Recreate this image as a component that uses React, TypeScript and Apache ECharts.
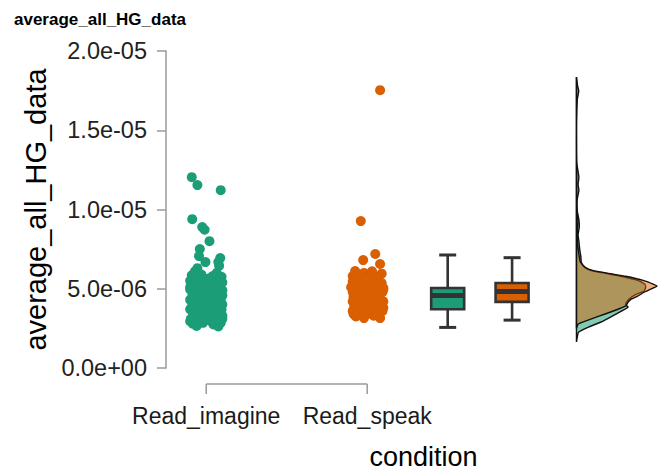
import React, { useEffect, useRef } from 'react';
import * as echarts from 'echarts';

// ---------- data ----------
const categories = ['Read_imagine', 'Read_speak'];
const categoryPositions = [1, 2];
const groupColors = ['#1b9e77', '#d95f02'];
const densityFills = ['rgba(27,158,119,0.55)', 'rgba(217,95,2,0.5)'];
const yTickLabels = ['0.0e+00', '5.0e-06', '1.0e-05', '1.5e-05', '2.0e-05'];

// jittered points: [jitter offset (category units), value (x1e-6)]
const imaginePoints: number[][] = [
  [-0.09, 12.04], [-0.055, 11.54], [0.09, 11.22], [-0.087, 9.39], [-0.025, 8.89], [-0.01, 8.72],
  [0.02, 8.0], [-0.04, 7.5], [-0.045, 7.06], [0.087, 6.94], [0.075, 6.68], [-0.005, 6.68],
  [-0.055, 6.3], [0.08, 6.45], [-0.07, 6.1],
  [-0.09, 5.85], [-0.03, 5.9], [0.04, 5.8], [0.095, 5.75],
  [-0.1, 5.5], [-0.05, 5.6], [0.0, 5.45], [0.06, 5.55], [0.1, 5.4],
  [-0.08, 5.2], [-0.02, 5.15], [0.03, 5.25], [0.08, 5.1],
  [-0.1, 4.95], [-0.06, 4.85], [0.0, 4.9], [0.05, 4.8], [0.1, 4.9],
  [-0.085, 4.6], [-0.03, 4.55], [0.02, 4.62], [0.07, 4.5], [0.1, 4.58],
  [-0.1, 4.3], [-0.05, 4.25], [0.0, 4.35], [0.045, 4.2], [0.09, 4.3],
  [-0.08, 4.0], [-0.02, 3.95], [0.03, 4.05], [0.075, 3.9], [0.1, 4.0],
  [-0.1, 3.7], [-0.055, 3.65], [0.005, 3.75], [0.05, 3.6], [0.095, 3.7],
  [-0.08, 3.4], [-0.025, 3.35], [0.03, 3.45], [0.08, 3.3],
  [-0.095, 3.1], [-0.045, 3.05], [0.01, 3.15], [0.06, 3.0], [0.1, 3.1],
  [-0.085, 2.8], [-0.06, 2.65], [-0.02, 2.85], [0.045, 2.75], [0.075, 2.62], [0.09, 2.85],
  [-0.075, 5.7], [0.015, 5.65], [0.075, 5.65], [-0.045, 5.35], [0.055, 5.35], [-0.1, 5.1],
  [0.01, 5.0], [-0.035, 4.72], [0.08, 4.72], [-0.065, 4.45], [0.025, 4.4], [0.07, 4.1],
  [-0.04, 4.12], [-0.09, 3.85], [0.05, 3.85], [-0.01, 3.55], [0.085, 3.5], [-0.06, 3.25],
  [0.04, 3.25], [0.1, 3.3], [-0.1, 2.95], [0.03, 2.95], [0.0, 3.6], [-0.07, 3.55],
  [0.06, 4.95], [0.03, 5.45], [-0.065, 5.95], [0.065, 6.0],
];
const speakPoints: number[][] = [
  [0.08, 17.53], [-0.04, 9.27], [0.05, 7.19], [-0.025, 6.81], [0.08, 6.56], [-0.075, 6.12],
  [-0.02, 6.0], [0.03, 6.1], [0.09, 5.95],
  [-0.09, 5.8], [-0.04, 5.7], [0.02, 5.75], [0.07, 5.65],
  [-0.09, 5.45], [-0.03, 5.4], [0.03, 5.5], [0.09, 5.35],
  [-0.085, 5.1], [-0.04, 5.15], [0.01, 5.05], [0.06, 5.2], [0.1, 5.05],
  [-0.09, 4.8], [-0.045, 4.85], [0.0, 4.75], [0.05, 4.9], [0.095, 4.8],
  [-0.085, 4.5], [-0.03, 4.55], [0.02, 4.45], [0.07, 4.6],
  [-0.09, 4.2], [-0.05, 4.25], [0.0, 4.15], [0.05, 4.3], [0.1, 4.2],
  [-0.08, 3.9], [-0.025, 3.95], [0.03, 3.85], [0.08, 3.95],
  [-0.09, 3.6], [-0.04, 3.55], [0.015, 3.65], [0.06, 3.5], [0.095, 3.6],
  [-0.07, 3.25], [-0.02, 3.15], [0.04, 3.3], [0.08, 3.15],
  [-0.065, 5.6], [0.05, 5.8], [0.0, 5.3], [-0.06, 5.3], [0.075, 5.0], [-0.065, 4.65],
  [0.03, 4.65], [0.08, 4.4], [-0.06, 4.05], [0.03, 4.05], [0.1, 3.8], [-0.05, 3.75],
  [0.0, 3.4], [-0.085, 3.4], [0.07, 3.35], [0.1, 4.95], [-0.1, 5.1], [-0.01, 3.5],
];

// boxplots: [min, Q1, median, Q3, max] (x1e-6)
const boxPositions = [2.5, 2.9];
const imagineBox = [2.56, 3.71, 4.57, 5.05, 7.13];
const speakBox = [3.02, 4.17, 4.82, 5.36, 6.96];

// densities: [value (x1e-6), relative density]
const densityBase = 3.3;
const imagineDensity: number[][] = [
  [18.36, 0], [17.5, 0.004], [15.0, 0], [13.0, 0.002], [12.04, 0.03], [11.6, 0.02], [11.2, 0.03],
  [10.6, 0.008], [9.9, 0.01], [9.37, 0.03], [8.9, 0.035], [8.4, 0.02], [8.0, 0.03], [7.5, 0.04],
  [7.0, 0.055], [6.67, 0.06], [6.35, 0.1], [6.16, 0.17], [5.97, 0.36], [5.79, 0.55],
  [5.53, 0.76], [5.28, 0.85], [5.1, 0.86], [4.84, 0.84], [4.65, 0.74], [4.34, 0.65],
  [4.02, 0.61], [3.84, 0.64], [3.4, 0.49], [2.96, 0.33], [2.58, 0.15], [2.26, 0.025],
  [1.95, 0.01], [1.64, 0],
];
const speakDensity: number[][] = [
  [18.36, 0], [17.86, 0.012], [17.48, 0.028], [16.92, 0.01], [15.5, 0], [12.0, 0.003],
  [9.9, 0.005], [9.27, 0.02], [8.6, 0.01], [7.8, 0.015], [7.17, 0.03], [6.67, 0.05],
  [6.35, 0.11], [6.16, 0.2], [5.97, 0.4], [5.79, 0.61], [5.53, 0.83], [5.28, 0.96],
  [5.16, 1.0], [4.97, 0.92], [4.78, 0.84], [4.53, 0.76], [4.34, 0.68], [4.15, 0.64],
  [3.9, 0.61], [3.58, 0.45], [3.27, 0.28], [2.96, 0.11], [2.77, 0.02], [2.5, 0],
];

const SCALE = 1e-6;
const FONT = '"Liberation Sans", Arial, sans-serif';

function buildOption() {
  const groups = [imaginePoints, speakPoints];
  const boxes = [imagineBox, speakBox];
  const densities = [imagineDensity, speakDensity];

  const scatterSeries = groups.map((pts, gi) => ({
    type: 'scatter',
    name: categories[gi],
    data: pts.map(([off, v]) => [categoryPositions[gi] + off, v * SCALE]),
    symbolSize: 10,
    itemStyle: { color: groupColors[gi], opacity: 1 },
    silent: true,
    z: 3,
  }));

  const boxSeries = {
    type: 'custom',
    clip: false,
    silent: true,
    z: 4,
    data: boxes.map((b, i) => [boxPositions[i], ...b.map((v) => v * SCALE), i]),
    renderItem: (params: any, api: any) => {
      const x = api.value(0);
      const gi = api.value(6);
      const px = api.coord([x, 0])[0];
      const yMin = api.coord([x, api.value(1)])[1];
      const yQ1 = api.coord([x, api.value(2)])[1];
      const yMed = api.coord([x, api.value(3)])[1];
      const yQ3 = api.coord([x, api.value(4)])[1];
      const yMax = api.coord([x, api.value(5)])[1];
      const hw = 16.5;
      const cw = 8.5;
      const dark = '#333333';
      const lw = 2.6;
      return {
        type: 'group',
        children: [
          { type: 'line', shape: { x1: px, y1: yMax, x2: px, y2: yQ3 }, style: { stroke: dark, lineWidth: lw } },
          { type: 'line', shape: { x1: px, y1: yQ1, x2: px, y2: yMin }, style: { stroke: dark, lineWidth: lw } },
          { type: 'line', shape: { x1: px - cw, y1: yMax, x2: px + cw, y2: yMax }, style: { stroke: dark, lineWidth: 3 } },
          { type: 'line', shape: { x1: px - cw, y1: yMin, x2: px + cw, y2: yMin }, style: { stroke: dark, lineWidth: 3 } },
          {
            type: 'rect',
            shape: { x: px - hw, y: yQ3, width: hw * 2, height: yQ1 - yQ3 },
            style: { fill: groupColors[gi], stroke: dark, lineWidth: lw },
          },
          { type: 'line', shape: { x1: px - hw, y1: yMed, x2: px + hw, y2: yMed }, style: { stroke: dark, lineWidth: 5 } },
        ],
      };
    },
  };

  const densitySeries = densities.map((dens, gi) => ({
    type: 'custom',
    clip: false,
    silent: true,
    z: 2 + gi,
    data: [[densityBase, 0]],
    renderItem: (params: any, api: any) => {
      const pts: number[][] = [];
      pts.push(api.coord([densityBase, dens[0][0] * SCALE]));
      dens.forEach(([v, d]) => pts.push(api.coord([densityBase + d * 0.5, v * SCALE])));
      pts.push(api.coord([densityBase, dens[dens.length - 1][0] * SCALE]));
      return {
        type: 'polygon',
        shape: { points: pts, smooth: 0.15 },
        style: { fill: densityFills[gi], stroke: '#111', lineWidth: 1.4 },
      };
    },
  }));

  const categorySeries = {
    type: 'custom',
    clip: false,
    silent: true,
    data: categoryPositions.map((p, i) => [p, 0, i]),
    renderItem: (params: any, api: any) => {
      const p = api.coord([api.value(0), 0]);
      const y0 = p[1] + 16;
      const i = api.value(2);
      const gray = '#9a9a9a';
      const children: any[] = [
        { type: 'line', shape: { x1: p[0], y1: y0, x2: p[0], y2: y0 + 10 }, style: { stroke: gray, lineWidth: 1.5 } },
        {
          type: 'text',
          style: {
            text: categories[i], x: p[0], y: y0 + 32, align: 'center', verticalAlign: 'middle',
            fontSize: 23, fontFamily: FONT, fill: '#1a1a1a',
          },
        },
      ];
      if (i === 0) {
        const xEnd = api.coord([categoryPositions[categoryPositions.length - 1], 0])[0];
        children.push({ type: 'line', shape: { x1: p[0], y1: y0, x2: xEnd, y2: y0 }, style: { stroke: gray, lineWidth: 1.5 } });
      }
      return { type: 'group', children };
    },
  };

  return {
    animation: false,
    backgroundColor: '#ffffff',
    title: {
      text: 'average_all_HG_data',
      left: 9,
      top: 6,
      textStyle: { fontSize: 17, fontWeight: 'bold', color: '#000', fontFamily: FONT },
    },
    grid: { left: 166, top: 51, width: 499, height: 318 },
    xAxis: {
      type: 'value',
      min: 0.75,
      max: 3.85,
      axisLine: { show: false },
      axisTick: { show: false },
      axisLabel: { show: false },
      splitLine: { show: false },
      name: 'condition',
      nameLocation: 'middle',
      nameGap: 75,
      nameTextStyle: { fontSize: 27, color: '#000', fontFamily: FONT, padding: [0, 0, 0, 16] },
    },
    yAxis: {
      type: 'value',
      min: 0,
      max: 2e-5,
      interval: 5e-6,
      axisLine: { show: true, lineStyle: { color: '#9a9a9a', width: 1.5 } },
      axisTick: { show: true, length: 9, lineStyle: { color: '#9a9a9a', width: 1.5 } },
      axisLabel: {
        margin: 19,
        fontSize: 23.5,
        color: '#222',
        fontFamily: FONT,
        formatter: (v: number) => yTickLabels[Math.round(v / 5e-6)] ?? '',
      },
      splitLine: { show: false },
      name: 'average_all_HG_data',
      nameLocation: 'middle',
      nameGap: 116,
      nameRotate: 90,
      nameTextStyle: { fontSize: 29, color: '#000', fontFamily: FONT },
    },
    series: [...densitySeries, ...scatterSeries, boxSeries, categorySeries],
  };
}

export default function App() {
  const ref = useRef<HTMLDivElement>(null);
  useEffect(() => {
    if (!ref.current) return;
    const chart = echarts.init(ref.current, undefined, { renderer: 'svg' });
    chart.setOption(buildOption() as any);
    return () => chart.dispose();
  }, []);
  return <div ref={ref} style={{ width: 668, height: 475, position: 'absolute', left: 0, top: 0 }} />;
}
